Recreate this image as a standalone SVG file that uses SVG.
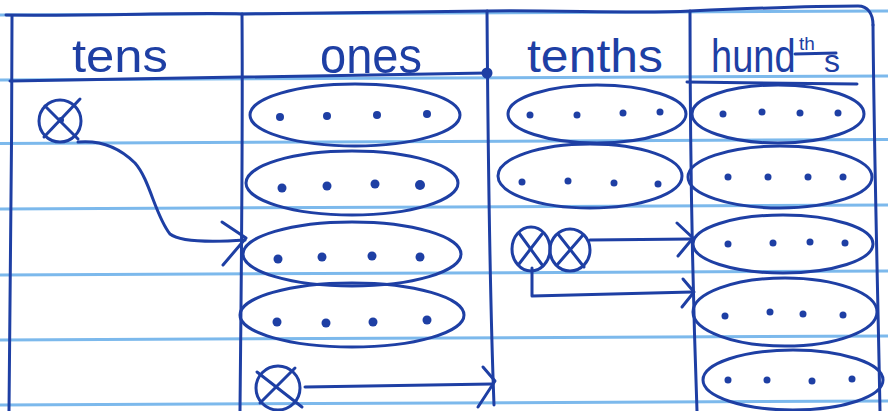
<svg xmlns="http://www.w3.org/2000/svg" width="888" height="411" viewBox="0 0 888 411">
<defs>
<style>
.rule{stroke:#7cb9ec;stroke-width:3;fill:none}
.pen{stroke:#1e3fa4;stroke-width:3;fill:none;stroke-linecap:round;stroke-linejoin:round}
.oval{stroke:#1e3fa4;stroke-width:3;fill:none}
.dot{fill:#1e3fa4}
.lbl{font-family:"Liberation Sans",Arial,sans-serif;fill:#1e3fa4;font-size:46px}
</style>
</defs>
<rect width="888" height="411" fill="#ffffff"/>
<g id="ruled-lines">
<line class="rule" x1="0" y1="15" x2="888" y2="11"/>
<line class="rule" x1="0" y1="80" x2="888" y2="76"/>
<line class="rule" x1="0" y1="143.5" x2="888" y2="139.5"/>
<line class="rule" x1="0" y1="209" x2="888" y2="205"/>
<line class="rule" x1="0" y1="275" x2="888" y2="271"/>
<line class="rule" x1="0" y1="340" x2="888" y2="336"/>
<line class="rule" x1="0" y1="405" x2="888" y2="401"/>
</g>
<g id="table">
<path class="pen" d="M6,15 C100,16 200,12 242,14 C330,13 420,12 487,11 C560,10 640,14 690,11 C760,8 830,6 858,6 C868,6 873,14 873,25"/>
<path class="pen" d="M873,25 C874,150 878,300 880,411"/>
<path class="pen" d="M12,16 C12,150 10,300 9,411"/>
<path class="pen" d="M242,14 C243,150 241,300 240,411"/>
<path class="pen" d="M487,11 C488,150 490,300 494,405"/>
<path class="pen" d="M690,11 C690,150 693,300 697,411"/>
<path class="pen" d="M10,81 C150,80 300,77 487,73"/>
<path class="pen" d="M687,82 L857,84"/>
<circle class="dot" cx="487" cy="73" r="5.5"/>
</g>
<g id="headers">
<text class="lbl" x="72" y="72" textLength="96" lengthAdjust="spacingAndGlyphs">tens</text>
<text class="lbl" x="320" y="73" textLength="102" lengthAdjust="spacingAndGlyphs" style="font-size:50px">ones</text>
<text class="lbl" x="527" y="72" textLength="136" lengthAdjust="spacingAndGlyphs">tenths</text>
<text class="lbl" x="0" y="0" transform="translate(711,72) scale(1,1.2)" style="font-size:38px">hund</text>
<text class="lbl" x="799" y="50" style="font-size:19px">th</text>
<line class="pen" x1="795" y1="54" x2="836" y2="53"/>
<text class="lbl" x="824" y="72" style="font-size:32px">s</text>
</g>
<g id="tens-ten">
<circle class="pen" cx="60" cy="121" r="21"/>
<line class="pen" x1="45" y1="106" x2="78" y2="139"/>
<line class="pen" x1="44" y1="137" x2="80" y2="99"/>
<circle class="dot" cx="61" cy="120" r="3"/>
</g>
<g id="ones-group-1">
<ellipse class="oval" cx="355" cy="115" rx="105" ry="31"/>
<circle class="dot" cx="280" cy="117" r="4"/><circle class="dot" cx="327" cy="116" r="4"/><circle class="dot" cx="377" cy="115" r="4"/><circle class="dot" cx="427" cy="114" r="4"/>
</g>
<g id="ones-group-2">
<ellipse class="oval" cx="352" cy="183" rx="106" ry="32"/>
<circle class="dot" cx="282" cy="188" r="4.5"/><circle class="dot" cx="327" cy="186" r="4.5"/><circle class="dot" cx="375" cy="184" r="4.5"/><circle class="dot" cx="420" cy="185" r="5"/>
</g>
<g id="ones-group-3">
<ellipse class="oval" cx="352" cy="254" rx="109" ry="32"/>
<circle class="dot" cx="278" cy="259" r="4.5"/><circle class="dot" cx="322" cy="257" r="4.5"/><circle class="dot" cx="372" cy="256" r="4.5"/><circle class="dot" cx="420" cy="257" r="4.5"/>
</g>
<g id="ones-group-4">
<ellipse class="oval" cx="352" cy="315" rx="112" ry="32"/>
<circle class="dot" cx="277" cy="322" r="4.5"/><circle class="dot" cx="326" cy="323" r="4.5"/><circle class="dot" cx="373" cy="322" r="4.5"/><circle class="dot" cx="427" cy="320" r="4.5"/>
</g>
<g id="ones-ten">
<circle class="pen" cx="278" cy="388" r="22"/>
<line class="pen" x1="257" y1="372" x2="302" y2="407"/>
<line class="pen" x1="295" y1="368" x2="260" y2="403"/>
</g>
<g id="tenths-group-1">
<ellipse class="oval" cx="597" cy="114" rx="89" ry="29"/>
<circle class="dot" cx="530" cy="115" r="3.5"/><circle class="dot" cx="577" cy="115" r="3.5"/><circle class="dot" cx="623" cy="113" r="3.5"/><circle class="dot" cx="660" cy="112" r="3.5"/>
</g>
<g id="tenths-group-2">
<ellipse class="oval" cx="590" cy="176" rx="92" ry="32"/>
<circle class="dot" cx="522" cy="182" r="3.5"/><circle class="dot" cx="568" cy="181" r="3.5"/><circle class="dot" cx="614" cy="183" r="3.5"/><circle class="dot" cx="658" cy="184" r="3.5"/>
</g>
<g id="tenths-ten-1">
<ellipse class="pen" cx="531" cy="249" rx="19" ry="22"/>
<line class="pen" x1="519" y1="233" x2="543" y2="266"/>
<line class="pen" x1="542" y1="234" x2="519" y2="264"/>
</g>
<g id="tenths-ten-2">
<ellipse class="pen" cx="570" cy="250" rx="20" ry="21"/>
<line class="pen" x1="558" y1="234" x2="584" y2="267"/>
<line class="pen" x1="583" y1="235" x2="557" y2="265"/>
</g>
<g id="hundredths-group-1">
<ellipse class="oval" cx="778" cy="114" rx="86" ry="29"/>
<circle class="dot" cx="723" cy="114" r="3.5"/><circle class="dot" cx="762" cy="112" r="3.5"/><circle class="dot" cx="800" cy="113" r="3.5"/><circle class="dot" cx="838" cy="113" r="3.5"/>
</g>
<g id="hundredths-group-2">
<ellipse class="oval" cx="780" cy="177" rx="92" ry="31"/>
<circle class="dot" cx="728" cy="177" r="3.5"/><circle class="dot" cx="768" cy="177" r="3.5"/><circle class="dot" cx="808" cy="177" r="3.5"/><circle class="dot" cx="843" cy="177" r="3.5"/>
</g>
<g id="hundredths-group-3">
<ellipse class="oval" cx="783" cy="244" rx="90" ry="29"/>
<circle class="dot" cx="728" cy="244" r="3.5"/><circle class="dot" cx="773" cy="243" r="3.5"/><circle class="dot" cx="810" cy="242" r="3.5"/><circle class="dot" cx="845" cy="243" r="3.5"/>
</g>
<g id="hundredths-group-4">
<ellipse class="oval" cx="785" cy="312" rx="92" ry="34"/>
<circle class="dot" cx="725" cy="316" r="3.5"/><circle class="dot" cx="770" cy="312" r="3.5"/><circle class="dot" cx="803" cy="314" r="3.5"/><circle class="dot" cx="843" cy="315" r="3.5"/>
</g>
<g id="hundredths-group-5">
<ellipse class="oval" cx="793" cy="380" rx="90" ry="30"/>
<circle class="dot" cx="728" cy="380" r="3.5"/><circle class="dot" cx="767" cy="380" r="3.5"/><circle class="dot" cx="812" cy="381" r="3.5"/><circle class="dot" cx="852" cy="379" r="3.5"/>
</g>
<g id="connectors">
<path class="pen" d="M78,142 C100,140 120,148 135,163 C150,180 155,215 170,234 C180,242 215,242 245,240"/>
<path class="pen" d="M222,222 L246,238 L223,265"/>
<path class="pen" d="M305,387 C380,386 440,385 492,384"/>
<path class="pen" d="M483,367 L495,381 L478,407"/>
<path class="pen" d="M590,240 L692,239"/>
<path class="pen" d="M677,223 L693,238 L678,256"/>
<path class="pen" d="M532,268 L532,296 L692,292"/>
<path class="pen" d="M683,279 L694,292 L682,307"/>
</g>
</svg>
